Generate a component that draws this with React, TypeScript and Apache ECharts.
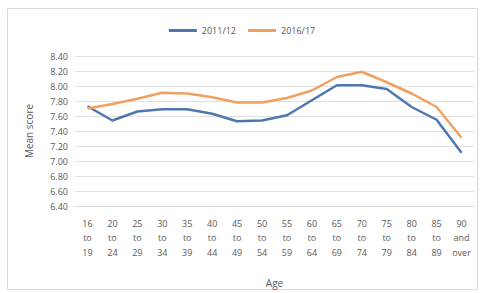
import React, { useEffect, useRef } from "react";
import * as echarts from "echarts";

const categories = [
  "16 to 19", "20 to 24", "25 to 29", "30 to 34", "35 to 39", "40 to 44",
  "45 to 49", "50 to 54", "55 to 59", "60 to 64", "65 to 69", "70 to 74",
  "75 to 79", "80 to 84", "85 to 89", "90 and over",
];
const series2011 = [7.73, 7.54, 7.66, 7.69, 7.69, 7.63, 7.53, 7.54, 7.61, 7.81, 8.01, 8.01, 7.96, 7.72, 7.55, 7.11];
const series2016 = [7.70, 7.76, 7.83, 7.91, 7.90, 7.85, 7.78, 7.78, 7.84, 7.94, 8.12, 8.19, 8.05, 7.90, 7.72, 7.31];
const seriesNames = ["2011/12", "2016/17"];
const yTicks = { min: 6.4, max: 8.4, interval: 0.2 };

const FONT = "'Open Sans', 'Noto Sans', sans-serif";
const TEXT = "#595959";

export default function App() {
  const ref = useRef<HTMLDivElement>(null);
  useEffect(() => {
    if (!ref.current) return;
    const chart = echarts.init(ref.current, null, { renderer: "svg" });
    chart.setOption({
      animation: false,
      backgroundColor: "#ffffff",
      textStyle: { fontFamily: FONT },
      graphic: [
        {
          type: "rect",
          shape: { x: 7.5, y: 8.5, width: 470, height: 281 },
          style: { fill: "none", stroke: "#d9d9d9", lineWidth: 1 },
          silent: true,
        },
      ],
      legend: {
        top: 21,
        left: "center",
        icon: "rect",
        itemWidth: 28,
        itemHeight: 3,
        itemGap: 12,
        textStyle: { color: TEXT, fontSize: 9, fontFamily: FONT },
        data: seriesNames,
      },
      grid: { left: 75, right: 10, top: 56, bottom: 83 },
      xAxis: {
        type: "category",
        data: categories,
        boundaryGap: true,
        name: "Age",
        nameLocation: "middle",
        nameGap: 72,
        nameTextStyle: { color: TEXT, fontSize: 10, fontFamily: FONT },
        axisLine: { show: true, lineStyle: { color: "#d9d9d9" } },
        axisTick: { show: false },
        axisLabel: {
          color: TEXT,
          fontSize: 9,
          lineHeight: 14.5,
          margin: 10,
          interval: 0,
          formatter: (v: string) => v.split(" ").join("\n"),
        },
      },
      yAxis: {
        type: "value",
        min: yTicks.min,
        max: yTicks.max,
        interval: yTicks.interval,
        name: "Mean score",
        nameLocation: "middle",
        nameRotate: 90,
        nameGap: 41,
        nameTextStyle: { color: TEXT, fontSize: 10, fontFamily: FONT },
        axisLine: { show: false },
        axisTick: { show: false },
        splitLine: { lineStyle: { color: "#e0e0e0", width: 1 } },
        axisLabel: {
          color: TEXT,
          fontSize: 9,
          margin: 7,
          formatter: (v: number) => v.toFixed(2),
        },
      },
      series: [
        {
          name: seriesNames[0],
          type: "line",
          data: series2011,
          symbol: "none",
          lineStyle: { color: "#4e78ad", width: 2.5 },
          itemStyle: { color: "#4e78ad" },
        },
        {
          name: seriesNames[1],
          type: "line",
          data: series2016,
          symbol: "none",
          lineStyle: { color: "#f0a060", width: 2.5 },
          itemStyle: { color: "#f0a060" },
        },
      ],
    });
    return () => chart.dispose();
  }, []);
  return (
    <div
      ref={ref}
      style={{ position: "fixed", left: 0, top: 0, width: 484, height: 293 }}
    />
  );
}
